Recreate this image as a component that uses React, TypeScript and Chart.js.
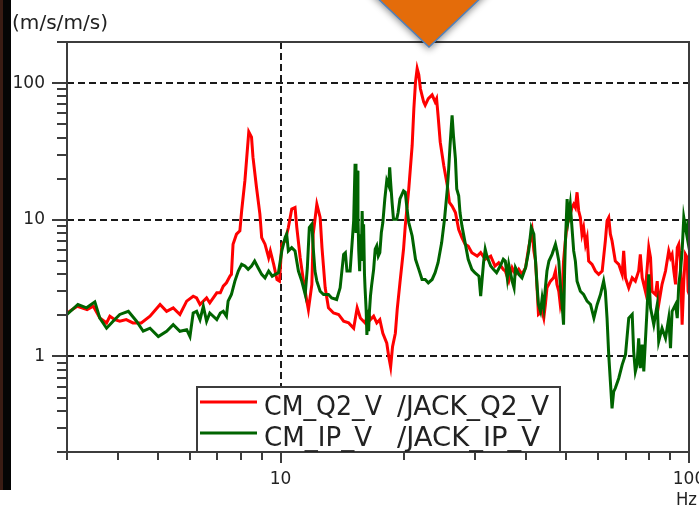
import React, { useEffect, useRef } from 'react';
import { Chart, registerables } from 'chart.js';

Chart.register(...registerables);

// ---------- data (Hz, m/s/m/s) ----------
const redHz = [
  3.0, 3.18, 3.36, 3.48, 3.61, 3.75, 3.82, 3.93, 4.04, 4.19, 4.35, 4.56, 4.79, 5.07, 5.26, 5.46, 5.67, 5.89,
  6.11, 6.23, 6.35, 6.59, 6.71, 6.98, 7.12, 7.24, 7.37, 7.52, 7.58, 7.65, 7.8, 7.95, 8.03, 8.18, 8.36, 8.49,
  8.56, 8.73, 8.9, 8.99, 9.16, 9.35, 9.44, 9.62, 9.8, 9.94, 10.07, 10.26, 10.45, 10.65, 10.85, 10.96, 11.17,
  11.38, 11.6, 11.7, 11.93, 12.02, 12.27, 12.5, 12.63, 12.86, 13.1, 13.48, 13.87, 14.27, 14.68, 15.1, 15.4,
  15.68, 16.1, 16.4, 16.6, 16.9, 17.2, 17.5, 17.8, 18.2, 18.4, 18.6, 18.8, 19.1, 19.3, 19.6, 20.0, 20.2, 20.6,
  21.0, 21.2, 21.4, 21.6, 21.8, 22.0, 22.4, 22.6, 23.0, 23.5, 23.9, 24.1, 24.3, 24.6, 25.1, 25.6, 25.9, 26.3,
  26.8, 27.3, 27.8, 28.3, 28.8, 29.4, 30.3, 30.9, 31.7, 32.7, 33.5, 34.2, 35.1, 35.5, 36.2, 36.9, 37.6, 38.3,
  39.0, 39.8, 40.5, 41.3, 41.7, 42.1, 42.5, 42.8, 43.7, 44.1, 44.5, 44.9, 45.8, 46.6, 47.1, 47.5, 48.0, 48.4,
  48.9, 49.3, 49.8, 50.3, 50.7, 51.7, 52.2, 52.7, 53.2, 53.7, 54.2, 54.7, 55.2, 55.8, 56.3, 56.8, 57.9, 59.0,
  60.1, 61.3, 62.4, 63.0, 63.6, 64.2, 64.8, 66.0, 67.3, 68.6, 69.2, 69.9, 71.2, 72.6, 73.9, 75.3, 76.0, 76.8,
  78.2, 79.7, 80.5, 81.2, 82.8, 83.6, 84.3, 85.9, 87.6, 89.2, 90.1, 90.9, 91.8, 92.7, 93.6, 94.4, 95.3, 96.2,
  97.1, 98.0, 99.0, 99.5, 99.9,
];
const redVal = [
  2.08, 2.33, 2.2, 2.33, 1.91, 1.76, 1.97, 1.86, 1.81, 1.86, 1.76, 1.76, 1.97, 2.4, 2.14, 2.27, 2.03, 2.54,
  2.76, 2.68, 2.4, 2.68, 2.47, 2.92, 2.92, 3.27, 3.46, 3.88, 3.99, 6.63, 7.85, 8.3, 11.6, 19.4, 44, 40.3,
  28.7, 17.3, 11.0, 7.41, 6.63, 5.28, 5.92, 4.72, 3.66, 3.56, 6.63, 7.01, 8.78, 12.0, 12.3, 8.78, 5.28,
  3.56, 2.54, 2.2, 3.37, 7.85, 13.0, 10.4, 6.26, 3.18, 2.27, 2.08, 2.03, 1.81, 1.76, 1.61, 2.27,
  1.91, 1.76, 2.08, 1.86, 1.97, 1.76, 1.86, 1.48, 1.25, 1.0, 0.84, 1.18, 1.48, 2.2, 3.46, 6.09, 9.03, 16.8,
  35, 65, 102, 128, 115, 91, 73, 69, 77, 82, 73, 77, 58, 37, 24.9, 17.8, 13.4, 12.6,
  11.3, 8.5, 7.41, 6.63, 6.43, 5.75, 5.43, 5.75, 5.14, 5.43, 4.59, 4.85, 4.34, 4.22, 3.56, 4.46, 3.99, 4.34,
  3.99, 4.46, 6.26, 8.31, 5.92, 4.99, 3.0, 2.03, 2.14, 1.91, 2.4, 3.18, 3.56, 3.76, 4.22, 3.37, 3.0, 2.4,
  2.84, 4.99, 7.01, 9.29, 9.83, 12.3, 13.0, 12.3, 15.9, 11.6, 10.4, 7.85, 8.78, 6.63, 7.41, 4.99, 4.72, 4.22,
  3.99, 4.22, 7.01, 9.83, 10.4, 7.85, 7.01, 4.99, 4.72, 3.99, 5.92, 3.76, 3.18, 3.76, 3.56, 4.22, 5.59, 3.76,
  3.0, 6.26, 5.28, 3.0, 2.84, 3.56, 2.4, 3.37, 4.22, 5.92, 5.28, 5.59, 4.22, 3.37, 6.26, 6.63, 4.99, 1.71,
  3.56, 5.59, 5.28, 3.0, 2.9,
];
const greenHz = [
  3.0, 3.19, 3.35, 3.51, 3.61, 3.75, 3.89, 4.04, 4.24, 4.44, 4.61, 4.79, 5.02, 5.26, 5.46, 5.67, 5.89, 6.0,
  6.11, 6.23, 6.35, 6.47, 6.59, 6.71, 6.98, 7.12, 7.24, 7.37, 7.44, 7.58, 7.73, 7.88, 8.03, 8.18, 8.33, 8.49,
  8.64, 8.81, 8.99, 9.16, 9.35, 9.54, 9.71, 9.88, 10.07, 10.26, 10.35, 10.45, 10.65, 10.85, 11.06, 11.27,
  11.49, 11.63, 11.76, 11.93, 12.02, 12.14, 12.27, 12.5, 12.74, 13.1, 13.34, 13.72, 13.99, 14.27, 14.41,
  14.54, 14.8, 15.1, 15.22, 15.3, 15.4, 15.47, 15.54, 15.62, 15.68, 15.76, 15.84, 15.92, 15.97, 16.05, 16.1,
  16.2, 16.27, 16.35, 16.43, 16.5, 16.6, 16.7, 16.9, 17.05, 17.2, 17.35, 17.5, 17.65, 17.8, 18.0, 18.2, 18.4,
  18.5, 18.6, 18.75, 18.9, 19.25, 19.4, 19.6, 20.0, 20.2, 20.4, 20.6, 21.0, 21.4, 21.8, 22.2, 22.6, 23.0,
  23.5, 23.9, 24.3, 24.8, 25.2, 25.6, 25.8, 26.0, 26.3, 26.5, 26.8, 27.0, 27.3, 27.5, 27.8, 28.3, 28.8, 29.4,
  29.9, 30.6, 30.9, 31.1, 31.4, 31.7, 32.0, 32.7, 33.2, 33.8, 34.5, 35.1, 35.5, 35.9, 36.2, 36.9, 37.3, 37.6,
  38.3, 39.0, 39.8, 40.5, 41.1, 41.7, 42.1, 42.5, 42.8, 43.3, 43.7, 44.1, 44.5, 44.9, 45.4, 46.2, 47.1, 47.5,
  48.0, 48.4, 48.9, 49.3, 49.6, 49.8, 50.3, 50.7, 51.2, 51.7, 52.2, 52.7, 53.2, 54.2, 55.2, 56.3, 57.4, 58.5,
  59.6, 60.7, 61.8, 62.4, 63.0, 63.6, 64.2, 64.8, 65.4, 66.0, 67.3, 68.6, 69.9, 71.2, 72.6, 73.2, 73.9, 74.6,
  75.3, 76.0, 76.8, 77.5, 78.9, 79.7, 80.5, 82.0, 83.6, 84.3, 85.9, 87.6, 89.2, 90.1, 90.9, 92.7, 93.6, 94.4,
  95.3, 96.2, 97.1, 98.0, 99.0, 99.5, 99.9,
];
const greenVal = [
  2.03, 2.4, 2.27, 2.51, 1.91, 1.61, 1.81, 2.03, 2.14, 1.81, 1.53, 1.61, 1.4, 1.53, 1.71, 1.53, 1.57, 1.4,
  2.08, 2.14, 1.86, 2.33, 1.81, 2.08, 1.86, 2.08, 2.14, 1.97, 2.54, 2.84, 3.56, 4.22, 4.72, 4.59, 4.34, 4.59,
  4.99, 4.46, 3.99, 3.76, 4.22, 3.87, 3.99, 4.1, 5.92, 7.41, 7.85, 5.92, 6.26, 5.92, 4.22, 3.56,
  2.84, 4.46, 8.78, 9.29, 6.26, 4.22, 3.56, 3.0, 2.84, 2.84, 2.68, 2.61, 3.18, 5.59, 5.75,
  4.22, 4.22, 9.83, 25.7, 8.0, 22.9, 10.5, 5.92, 4.2, 7.85, 5.0, 11.6, 6.0, 9.29, 4.0, 3.18,
  2.2, 1.44, 2.0, 1.53, 2.1, 2.76, 3.27, 4.34, 6.09, 6.44, 5.43, 5.75, 8.07, 9.55, 14.2, 19.4, 17.8,
  24.2, 18.8, 13.4, 10.1, 10.1, 11.3, 14.2, 16.3, 15.9, 12.0, 9.55, 7.62, 5.14, 4.34, 3.66, 3.66, 3.46,
  3.66, 4.1, 4.85, 6.81, 10.1, 16.8, 23.6, 35.0, 58.2, 41.5, 27.9, 16.8, 15.0, 11.3, 9.03, 6.81, 5.14, 4.34,
  4.1, 3.87, 2.76, 3.46, 4.85, 6.09, 5.43, 4.59, 4.34, 4.1, 4.59, 5.14, 4.99, 3.76, 4.72, 3.56, 3.18, 4.46,
  3.99, 3.76, 4.46, 5.92, 8.78, 7.85, 4.99, 3.18, 2.4, 2.14, 2.68, 2.27, 3.18, 4.22, 4.99, 5.59, 6.63, 5.92,
  4.99, 3.37, 2.4, 1.71, 4.22, 6.63, 14.2, 10.4, 13.0, 8.78, 5.92, 4.99, 3.56, 3.0, 2.84, 2.54, 2.4, 1.91,
  2.4, 2.84, 3.56, 3.0, 1.91, 1.03, 0.655, 0.417, 0.553, 0.585, 0.693, 0.869, 1.03, 1.91, 2.03, 1.09, 0.776, 0.869,
  1.36, 0.82, 1.22, 0.776, 2.14, 3.99, 2.27, 1.71, 2.4, 1.29, 1.61, 1.36, 1.91, 1.15, 2.14, 2.4, 1.91, 3.37,
  4.22, 5.92, 10.4, 8.78, 7.41, 10.0, 7.0,
];

const xMin = 3;
const xMax = 100;
const yMin = 0.2;
const yMax = 200;
const xTickLabels = [10, 100];
const yTickLabels = [1, 10, 100];
const seriesNames = ['CM_Q2_V', 'CM_IP_V'];
const seriesRefs = ['/JACK_Q2_V', '/JACK_IP_V'];
const seriesColors = ['#ff0000', '#006400'];
const yUnit = '(m/s/m/s)';
const xUnit = 'Hz';

const FONT = '"DejaVu Sans", Verdana, sans-serif';
const AXIS = '#3c3c3c';

function isDecade(v: number) {
  const l = Math.log10(v);
  return Math.abs(l - Math.round(l)) < 1e-6;
}

function logTickValues(min: number, max: number) {
  const out: number[] = [];
  for (let e = -2; e <= 3; e++) {
    for (let k = 1; k <= 9; k++) {
      const v = parseFloat((k * Math.pow(10, e)).toPrecision(3));
      if (v >= min * 0.9999 && v <= max * 1.0001) out.push(v);
    }
  }
  return out;
}

function fitText(ctx: CanvasRenderingContext2D, text: string, x: number, y: number, width: number) {
  const w = ctx.measureText(text).width;
  ctx.save();
  ctx.translate(x, y);
  ctx.scale(width / w, 1);
  ctx.fillText(text, 0, 0);
  ctx.restore();
}

const decorPlugin = {
  id: 'decor',
  beforeDraw(chart: any) {
    const { ctx, width, height } = chart;
    ctx.save();
    ctx.fillStyle = '#ffffff';
    ctx.fillRect(0, 0, width, height);
    // dark strip on the left edge of the screenshot
    ctx.fillStyle = '#3a1c14';
    ctx.fillRect(0, 0, 3, 490);
    ctx.fillStyle = '#050505';
    ctx.fillRect(3, 0, 8, 490);
    ctx.restore();
  },
  beforeDatasetsDraw(chart: any) {
    const { ctx, chartArea: a, scales } = chart;
    const x = scales.x;
    const y = scales.y;
    ctx.save();
    ctx.strokeStyle = '#1a1a1a';
    ctx.lineWidth = 2;
    ctx.setLineDash([7, 4]);
    for (const v of yTickLabels) {
      const py = Math.round(y.getPixelForValue(v));
      ctx.beginPath();
      ctx.moveTo(a.left, py);
      ctx.lineTo(a.right, py);
      ctx.stroke();
    }
    for (const v of xTickLabels) {
      if (v >= xMax) continue;
      const px = Math.round(x.getPixelForValue(v));
      ctx.beginPath();
      ctx.moveTo(px, a.top);
      ctx.lineTo(px, a.bottom);
      ctx.stroke();
    }
    ctx.restore();
  },
  afterDatasetsDraw(chart: any) {
    const { ctx, chartArea: a, scales } = chart;
    const x = scales.x;
    const y = scales.y;
    ctx.save();
    ctx.setLineDash([]);
    ctx.strokeStyle = AXIS;
    ctx.lineWidth = 2;
    // ticks
    for (const v of logTickValues(yMin, yMax)) {
      const py = Math.round(y.getPixelForValue(v));
      const len = isDecade(v) ? 15 : 10;
      ctx.beginPath();
      ctx.moveTo(a.left - len, py);
      ctx.lineTo(a.left, py);
      ctx.stroke();
    }
    for (const v of logTickValues(xMin, xMax)) {
      const px = Math.round(x.getPixelForValue(v));
      const len = isDecade(v) ? 11 : 8;
      ctx.beginPath();
      ctx.moveTo(px, a.bottom);
      ctx.lineTo(px, a.bottom + len);
      ctx.stroke();
    }
    // frame
    ctx.strokeRect(a.left, a.top, a.right - a.left, a.bottom - a.top);

    // legend
    const lx = 197, ly = 387, lw = 363, lh = a.bottom - 387;
    ctx.fillStyle = '#ffffff';
    ctx.fillRect(lx, ly, lw, lh);
    ctx.strokeStyle = AXIS;
    ctx.lineWidth = 2;
    ctx.strokeRect(lx, ly, lw, lh);
    const rowY = [402, 433];
    const baseY = [415, 446];
    const nameW = [118, 108];
    const refW = [152, 143];
    for (let i = 0; i < 2; i++) {
      ctx.strokeStyle = seriesColors[i];
      ctx.lineWidth = 3;
      ctx.beginPath();
      ctx.moveTo(200, rowY[i]);
      ctx.lineTo(257, rowY[i]);
      ctx.stroke();
      ctx.fillStyle = '#222222';
      ctx.font = `26px ${FONT}`;
      ctx.textBaseline = 'alphabetic';
      ctx.textAlign = 'left';
      fitText(ctx, seriesNames[i], 264, baseY[i], nameW[i]);
      fitText(ctx, seriesRefs[i], 397, baseY[i], refW[i]);
    }

    // unit labels
    ctx.fillStyle = '#222222';
    ctx.font = `19px ${FONT}`;
    fitText(ctx, yUnit, 12, 29, 96);
    ctx.font = `17px ${FONT}`;
    fitText(ctx, xUnit, 676, 505, 21);

    // orange arrow
    ctx.save();
    ctx.shadowColor = 'rgba(0,0,0,0.45)';
    ctx.shadowBlur = 7;
    ctx.shadowOffsetY = 3;
    ctx.beginPath();
    ctx.moveTo(369, -10);
    ctx.lineTo(489, -10);
    ctx.lineTo(429, 47);
    ctx.closePath();
    ctx.fillStyle = '#e46c0a';
    ctx.fill();
    ctx.restore();
    ctx.beginPath();
    ctx.moveTo(369, -10);
    ctx.lineTo(429, 47);
    ctx.lineTo(489, -10);
    ctx.strokeStyle = '#4f81bd';
    ctx.lineWidth = 1.5;
    ctx.stroke();
    ctx.restore();
  },
};

export default function App() {
  const ref = useRef<HTMLCanvasElement | null>(null);

  useEffect(() => {
    if (!ref.current) return;
    const chart = new Chart(ref.current, {
      type: 'line',
      data: {
        datasets: [
          {
            label: `${seriesNames[0]} ${seriesRefs[0]}`,
            data: redHz.map((f, i) => ({ x: f, y: redVal[i] })),
            borderColor: seriesColors[0],
            backgroundColor: seriesColors[0],
            borderWidth: 3,
            pointRadius: 0,
            tension: 0,
            order: 2,
          },
          {
            label: `${seriesNames[1]} ${seriesRefs[1]}`,
            data: greenHz.map((f, i) => ({ x: f, y: greenVal[i] })),
            borderColor: seriesColors[1],
            backgroundColor: seriesColors[1],
            borderWidth: 3,
            pointRadius: 0,
            tension: 0,
            order: 1,
          },
        ],
      },
      options: {
        animation: false,
        responsive: false,
        maintainAspectRatio: false,
        layout: { padding: { top: 42, right: 10, left: 0, bottom: 0 } },
        plugins: {
          legend: { display: false },
          tooltip: { enabled: false },
        },
        scales: {
          x: {
            type: 'logarithmic',
            position: 'bottom',
            min: xMin,
            max: xMax,
            grid: { display: false, drawTicks: false },
            border: { display: false },
            ticks: {
              autoSkip: false,
              maxRotation: 0,
              padding: 17,
              color: '#222222',
              font: { family: FONT, size: 17 },
              callback: (v: any) => (xTickLabels.some((t) => Math.abs(t - v) < 1e-6) ? String(v) : ''),
            },
            afterFit: (s: any) => {
              s.height = 57;
              s.paddingLeft = 0;
              s.paddingRight = 0;
            },
          },
          y: {
            type: 'logarithmic',
            position: 'left',
            min: yMin,
            max: yMax,
            grid: { display: false, drawTicks: false },
            border: { display: false },
            ticks: {
              autoSkip: false,
              padding: 22,
              color: '#222222',
              font: { family: FONT, size: 17 },
              callback: (v: any) => (yTickLabels.some((t) => Math.abs(t - v) < 1e-6) ? String(v) : ''),
            },
            afterFit: (s: any) => {
              s.width = 67;
              s.paddingTop = 0;
              s.paddingBottom = 0;
            },
          },
        },
      },
      plugins: [decorPlugin],
    });
    return () => chart.destroy();
  }, []);

  return (
    <div style={{ position: 'absolute', left: 0, top: 0, width: 699, height: 509, background: '#fff' }}>
      <canvas ref={ref} width={699} height={509} style={{ display: 'block', width: 699, height: 509 }} />
    </div>
  );
}
